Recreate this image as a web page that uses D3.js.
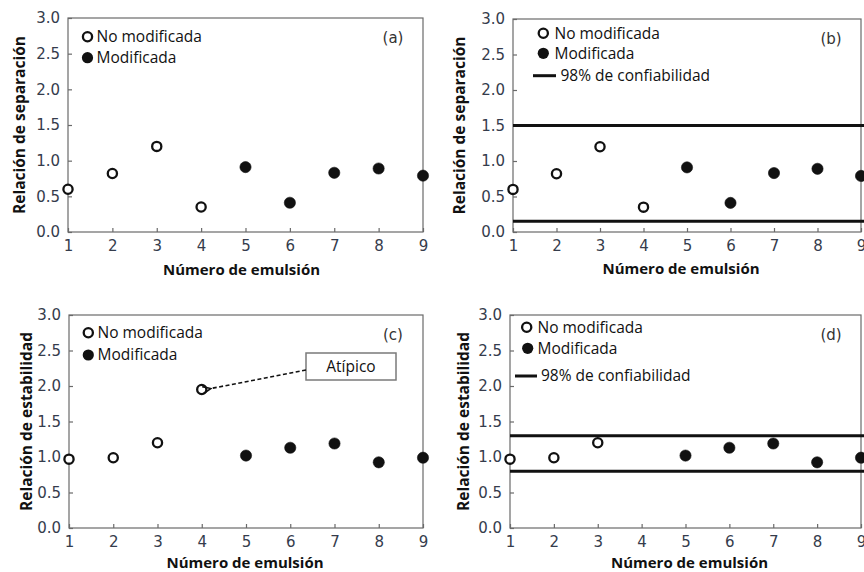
<!DOCTYPE html>
<html>
<head>
<meta charset="utf-8">
<script src="https://cdn.jsdelivr.net/npm/d3@7"></script>
<style>
  html, body { margin: 0; padding: 0; background: #fff; }
  svg { display: block; }
</style>
</head>
<body>
<svg id="chart" width="864" height="572"></svg>
<script>
// Emulsion numbers along the x axis
const emulsions = [1, 2, 3, 4, 5, 6, 7, 8, 9];
// 1–4: unmodified emulsions, 5–9: modified emulsions
const modified = [false, false, false, false, true, true, true, true, true];

// Separation ratio per emulsion (panels a, b)
const separationRatio = [0.60, 0.82, 1.20, 0.35, 0.91, 0.41, 0.83, 0.89, 0.79];
// Stability ratio per emulsion (panels c, d); emulsion 4 is the outlier
const stabilityRatio = [0.97, 0.99, 1.20, 1.95, 1.02, 1.13, 1.19, 0.925, 0.99];
// Stability ratio without the outlier (panel d)
const stabilityRatioClean = [0.97, 0.99, 1.20, null, 1.02, 1.13, 1.19, 0.925, 0.99];

// 98% confidence limits
const separationLimits = [0.15, 1.5];
const stabilityLimits = [0.8, 1.3];

const yTicks = [0, 0.5, 1, 1.5, 2, 2.5, 3];
const xTicks = [1, 2, 3, 4, 5, 6, 7, 8, 9];

const legendLabels = ["No modificada", "Modificada", "98% de confiabilidad"];
const xTitle = "Número de emulsión";

const svg = d3.select("#chart");
const tickColor = "#353c4c";
const frameColor = "#6a6a6a";
const tickFont = "'DejaVu Sans', sans-serif";

const panels = [
  { tag: "(a)", values: separationRatio, limits: null, yTitle: "Relación de separación",
    box: { l: 68, r: 423, t: 18, b: 232 }, yTitleDx: -48, xTitleDy: 43, xTitleDx: -4,
    legend: { ox: 87.5, oy: 36.7, fy: 57.7, fx: 87.5, tx: 96.5, ly: 0, lx0: 0, lx1: 0, ltx: 0 } },
  { tag: "(b)", values: separationRatio, limits: separationLimits, yTitle: "Relación de separación",
    box: { l: 513, r: 861, t: 19, b: 232 }, yTitleDx: -53, xTitleDy: 42, xTitleDx: -6,
    legend: { ox: 543.3, oy: 33.3, fy: 53.3, fx: 543.3, tx: 554.5, ly: 75.7, lx0: 533, lx1: 556, ltx: 560.5 } },
  { tag: "(c)", values: stabilityRatio, limits: null, yTitle: "Relación de estabilidad",
    box: { l: 69, r: 423, t: 315, b: 528 }, yTitleDx: -42, xTitleDy: 40, xTitleDx: -1,
    legend: { ox: 88.3, oy: 332.7, fy: 355, fx: 88.3, tx: 97.5, ly: 0, lx0: 0, lx1: 0, ltx: 0 } },
  { tag: "(d)", values: stabilityRatioClean, limits: stabilityLimits, yTitle: "Relación de estabilidad",
    box: { l: 510, r: 861, t: 315, b: 528 }, yTitleDx: -46, xTitleDy: 40, xTitleDx: 4,
    legend: { ox: 526.7, oy: 327.3, fy: 348.3, fx: 527.7, tx: 537.5, ly: 376, lx0: 515, lx1: 537, ltx: 541 } }
];

// Arrow marker for the outlier callout
svg.append("defs").append("marker")
  .attr("id", "arrowhead")
  .attr("viewBox", "0 0 10 10")
  .attr("refX", 1).attr("refY", 5)
  .attr("markerWidth", 10).attr("markerHeight", 10)
  .attr("orient", "auto-start-reverse")
  .attr("markerUnits", "userSpaceOnUse")
  .append("path")
  .attr("d", "M9,1.5 L1,5 L9,8.5")
  .attr("fill", "none")
  .attr("stroke", "#111")
  .attr("stroke-width", 1.6);

panels.forEach((p, i) => {
  const B = p.box;
  const x = d3.scaleLinear().domain([1, 9]).range([B.l, B.r]);
  const y = d3.scaleLinear().domain([0, 3]).range([B.b, B.t]);
  const g = svg.append("g");

  // Frame
  g.append("rect")
    .attr("x", B.l).attr("y", B.t)
    .attr("width", B.r - B.l).attr("height", B.b - B.t)
    .attr("fill", "none").attr("stroke", frameColor).attr("stroke-width", 1.2);

  // Y axis with inward ticks
  const yAxis = g.append("g").attr("transform", `translate(${B.l},0)`)
    .call(d3.axisLeft(y).tickValues(yTicks).tickFormat(d3.format(".1f"))
      .tickSizeInner(-4).tickSizeOuter(0).tickPadding(8));
  yAxis.select(".domain").remove();
  yAxis.selectAll(".tick line").attr("stroke", frameColor).attr("stroke-width", 1.2);
  yAxis.selectAll(".tick text")
    .attr("fill", tickColor)
    .style("font-family", tickFont)
    .style("font-size", "15px");

  // X axis with inward ticks
  const xAxis = g.append("g").attr("transform", `translate(0,${B.b})`)
    .call(d3.axisBottom(x).tickValues(xTicks).tickFormat(d3.format("d"))
      .tickSizeInner(-4).tickSizeOuter(0).tickPadding(8));
  xAxis.select(".domain").remove();
  xAxis.selectAll(".tick line").attr("stroke", frameColor).attr("stroke-width", 1.2);
  xAxis.selectAll(".tick text")
    .attr("fill", tickColor)
    .style("font-family", tickFont)
    .style("font-size", "15px");

  // Axis titles
  g.append("text")
    .attr("x", (B.l + B.r) / 2 + p.xTitleDx).attr("y", B.b + p.xTitleDy)
    .attr("text-anchor", "middle")
    .style("font-family", "'Open Sans', sans-serif")
    .style("font-weight", "bold").style("font-size", "15px")
    .attr("fill", "#111")
    .text(xTitle);
  g.append("text")
    .attr("transform", `translate(${B.l + p.yTitleDx},${(B.t + B.b) / 2}) rotate(-90)`)
    .attr("text-anchor", "middle")
    .attr("dy", "0.35em")
    .style("font-family", "'Open Sans', sans-serif")
    .style("font-weight", "bold").style("font-size", "15.5px")
    .attr("fill", "#111")
    .text(p.yTitle);

  // Panel tag
  g.append("text")
    .attr("x", B.r - 30).attr("y", B.t + 25)
    .attr("text-anchor", "middle")
    .style("font-family", tickFont)
    .style("font-size", "15px")
    .attr("fill", "#333")
    .text(p.tag);

  // 98% confidence limits
  if (p.limits) {
    g.selectAll("line.limit").data(p.limits).join("line")
      .attr("class", "limit")
      .attr("x1", B.l).attr("x2", B.r + 3)
      .attr("y1", d => y(d)).attr("y2", d => y(d))
      .attr("stroke", "#111").attr("stroke-width", 3);
  }

  // Data points
  const pts = emulsions.map((e, k) => ({ e, v: p.values[k], mod: modified[k] }))
    .filter(d => d.v !== null);
  g.selectAll("circle.pt").data(pts).join("circle")
    .attr("class", "pt")
    .attr("cx", d => x(d.e)).attr("cy", d => y(d.v))
    .attr("r", d => d.mod ? 5.6 : 4.6)
    .attr("fill", d => d.mod ? "#111" : "#fff")
    .attr("stroke", "#111")
    .attr("stroke-width", d => d.mod ? 0.6 : 2.3);

  // Legend
  const L = p.legend;
  const legFont = "'Open Sans', sans-serif";
  g.append("circle").attr("cx", L.ox).attr("cy", L.oy).attr("r", 4.6)
    .attr("fill", "#fff").attr("stroke", "#111").attr("stroke-width", 2.3);
  g.append("text").attr("x", L.tx).attr("y", L.oy + 5.3)
    .style("font-family", legFont).style("font-size", "15.5px").attr("fill", "#111")
    .text(legendLabels[0]);
  g.append("circle").attr("cx", L.fx).attr("cy", L.fy).attr("r", 5.6).attr("fill", "#111");
  g.append("text").attr("x", L.tx).attr("y", L.fy + 5.3)
    .style("font-family", legFont).style("font-size", "15.5px").attr("fill", "#111")
    .text(legendLabels[1]);
  if (p.limits) {
    g.append("line").attr("x1", L.lx0).attr("x2", L.lx1).attr("y1", L.ly).attr("y2", L.ly)
      .attr("stroke", "#111").attr("stroke-width", 3);
    g.append("text").attr("x", L.ltx).attr("y", L.ly + 5.3)
      .style("font-family", legFont).style("font-size", "15.5px").attr("fill", "#111")
      .text(legendLabels[2]);
  }

  // Outlier callout in panel (c)
  if (i === 2) {
    const k = 3;
    const px = x(emulsions[k]), py = y(p.values[k]);
    const bx = 306, by = 353, bw = 90, bh = 27;
    g.append("rect").attr("x", bx).attr("y", by).attr("width", bw).attr("height", bh)
      .attr("fill", "#fff").attr("stroke", "#7a7a7a").attr("stroke-width", 1.5);
    g.append("text").attr("x", bx + bw / 2).attr("y", by + bh / 2 + 5.5)
      .attr("text-anchor", "middle")
      .style("font-family", legFont).style("font-size", "15.5px").attr("fill", "#111")
      .text("Atípico");
    g.append("line")
      .attr("x1", bx).attr("y1", by + 17)
      .attr("x2", px + 9).attr("y2", py - 1)
      .attr("stroke", "#111").attr("stroke-width", 1.6)
      .attr("stroke-dasharray", "4,2.5")
      .attr("marker-end", "url(#arrowhead)");
  }
});
</script>
</body>
</html>
